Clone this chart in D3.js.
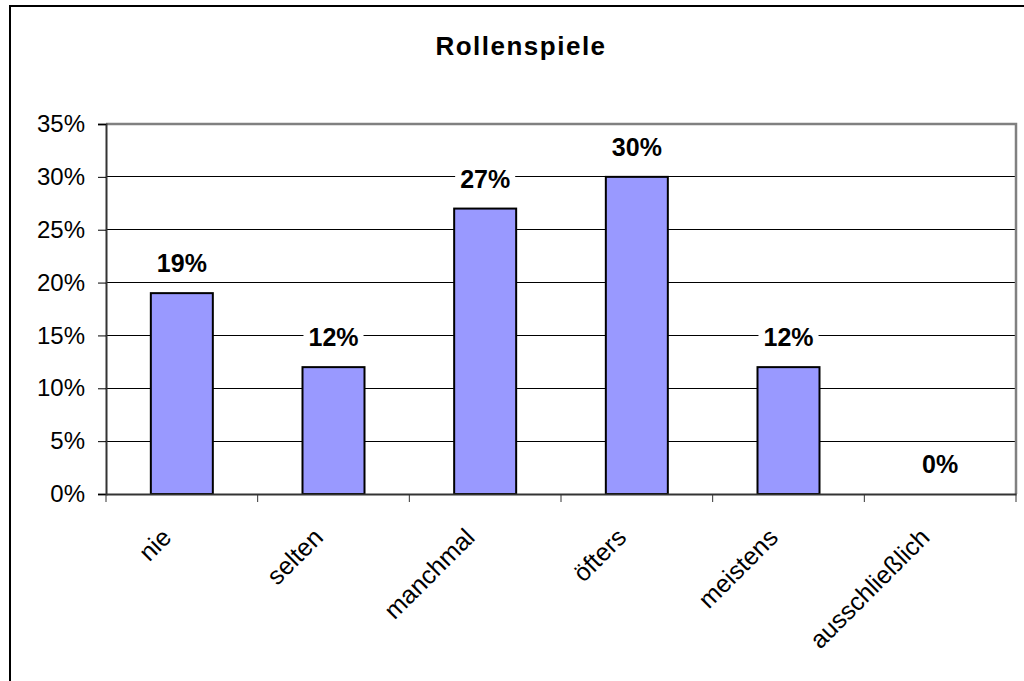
<!DOCTYPE html>
<html><head><meta charset="utf-8">
<script src="https://cdn.jsdelivr.net/npm/d3@7"></script>
<style>body{margin:0;background:#fff}svg{display:block}text{font-family:"Liberation Sans",Arial,sans-serif}</style>
</head><body><svg id="c" width="1024" height="681"></svg>
<script>
const title = "Rollenspiele";
const categories = ["nie","selten","manchmal","öfters","meistens","ausschließlich"];
const values = [0.19,0.12,0.27,0.30,0.12,0.00];
const valueLabels = ["19%","12%","27%","30%","12%","0%"];
const yTicks = [0,0.05,0.10,0.15,0.20,0.25,0.30,0.35];

const svg = d3.select("#c");
const L=106,R=1016,T=124,B=494;
// outer frame
svg.append("rect").attr("x",10).attr("y",6).attr("width",1040).attr("height",700)
  .attr("fill","#fff").attr("stroke","#000").attr("stroke-width",2);

const x = d3.scaleBand().domain(categories).range([L,R]).paddingInner(0).paddingOuter(0);
const y = d3.scaleLinear().domain([0,0.35]).range([B,T]);

// gridlines
svg.append("g").selectAll("line").data(yTicks.filter(d=>d>0&&d<0.35)).join("line")
  .attr("x1",L).attr("x2",R).attr("y1",d=>y(d)).attr("y2",d=>y(d))
  .attr("stroke","#000").attr("stroke-width",1).attr("shape-rendering","crispEdges");
// plot border top/right
svg.append("path").attr("d",`M${L},${T}H${R}V${B}`).attr("fill","none")
  .attr("stroke","#808080").attr("stroke-width",2.5);

// bars
const bw=62;
svg.append("g").selectAll("rect").data(categories).join("rect")
  .attr("x",(d)=>x(d)+x.bandwidth()/2-bw/2).attr("width",bw)
  .attr("y",(d,i)=>y(values[i])).attr("height",(d,i)=>B-y(values[i]))
  .attr("fill","#9999FF").attr("stroke","#000").attr("stroke-width",2);

// y axis
const ya = svg.append("g").attr("transform",`translate(${L},0)`)
  .call(d3.axisLeft(y).tickValues(yTicks).tickFormat(d3.format(".0%")).tickSize(8).tickPadding(13));
ya.select(".domain").attr("stroke","#333").attr("stroke-width",2);
ya.selectAll(".tick line").attr("stroke","#000");
ya.selectAll("text").attr("font-size",24).attr("fill","#000").attr("font-family","Liberation Sans, Arial, sans-serif");

// x axis
const xa = svg.append("g").attr("transform",`translate(0,${B})`)
  .call(d3.axisBottom(x).tickSize(0).tickFormat(""));
xa.select(".domain").attr("stroke","#333").attr("stroke-width",2);
svg.append("g").selectAll("line").data(d3.range(categories.length+1)).join("line")
  .attr("x1",i=>L+i*x.bandwidth()).attr("x2",i=>L+i*x.bandwidth())
  .attr("y1",B).attr("y2",B+8).attr("stroke","#333").attr("stroke-width",1);

svg.append("g").selectAll("text").data(categories).join("text")
  .attr("transform",d=>`translate(${x(d)+x.bandwidth()/2-9},${B+45}) rotate(-45)`)
  .attr("text-anchor","end").attr("font-size",25).attr("fill","#000").text(d=>d);

// value labels with white boxes
const lg = svg.append("g").selectAll("g").data(categories).join("g")
  .attr("transform",(d,i)=>`translate(${x(d)+x.bandwidth()/2},${y(values[i])-21})`);
lg.append("text").attr("text-anchor","middle").attr("font-size",25).attr("font-weight","bold")
  .attr("fill","#000").text((d,i)=>valueLabels[i]);
lg.each(function(){
  const g=d3.select(this); const bb=g.select("text").node().getBBox();
  g.insert("rect","text").attr("x",bb.x-5).attr("y",-24).attr("width",bb.width+10).attr("height",30).attr("fill","#fff");
});

// title
svg.append("text").attr("x",521).attr("y",55).attr("text-anchor","middle")
  .attr("font-size",26).attr("font-weight","bold").attr("letter-spacing",1.5).attr("fill","#000").text(title);
</script></body></html>
